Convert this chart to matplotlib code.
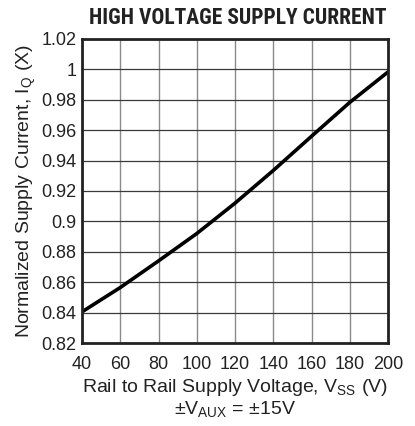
import matplotlib
matplotlib.use("Agg")
import matplotlib.pyplot as plt

plt.rcParams['font.family'] = ['Liberation Sans', 'DejaVu Sans']
plt.rcParams['mathtext.default'] = 'regular'

# Data
vss = [40, 60, 80, 100, 120, 140, 160, 180, 200]
iq_norm = [0.8405, 0.8565, 0.874, 0.892, 0.912, 0.9335, 0.956, 0.9783, 0.9983]

xticks = [40, 60, 80, 100, 120, 140, 160, 180, 200]
yticks = [0.82, 0.84, 0.86, 0.88, 0.9, 0.92, 0.94, 0.96, 0.98, 1.0, 1.02]
ytick_labels = ['0.82', '0.84', '0.86', '0.88', '0.9', '0.92', '0.94', '0.96', '0.98', '1', '1.02']

title = 'HIGH VOLTAGE SUPPLY CURRENT'
xlabel = 'Rail to Rail Supply Voltage, V$_{SS}$ (V)\n\u00b1V$_{AUX}$ = \u00b115V'
ylabel = 'Normalized Supply Current, I$_{Q}$ (X)'

fig = plt.figure(figsize=(4.15, 4.26), dpi=100)
ax = fig.add_axes([0.1976, 0.1948, 0.7374, 0.7137])

ax.plot(vss, iq_norm, color='black', lw=2.6, solid_capstyle='round', solid_joinstyle='round')

ax.set_xlim(40, 200)
ax.set_ylim(0.82, 1.02)
ax.set_xticks(xticks)
ax.set_xticklabels([str(t) for t in xticks])
ax.set_yticks(yticks)
ax.set_yticklabels(ytick_labels)
ax.tick_params(length=0, labelsize=13, colors='#222222')
ax.tick_params(axis='x', pad=9)
ax.tick_params(axis='y', pad=4)
ax.grid(True, axis='x', color='#8a8a8a', lw=1.0)
ax.grid(True, axis='y', color='#3a3a3a', lw=0.9)
ax.set_axisbelow(True)
for s in ax.spines.values():
    s.set_linewidth(2.0)
    s.set_color('#222222')

ax.set_xlabel(xlabel, fontsize=14, color='#222222', linespacing=1.12, labelpad=3)
ax.set_ylabel(ylabel, fontsize=14, color='#222222', labelpad=2)

ax.set_title(title, fontsize=15.5, fontweight='bold',
             family=['Roboto Condensed', 'PT Sans Narrow', 'Liberation Sans'],
             color='#222222', pad=11)
ax.title.set_x(0.51)

fig.savefig('out.png', dpi=100)
